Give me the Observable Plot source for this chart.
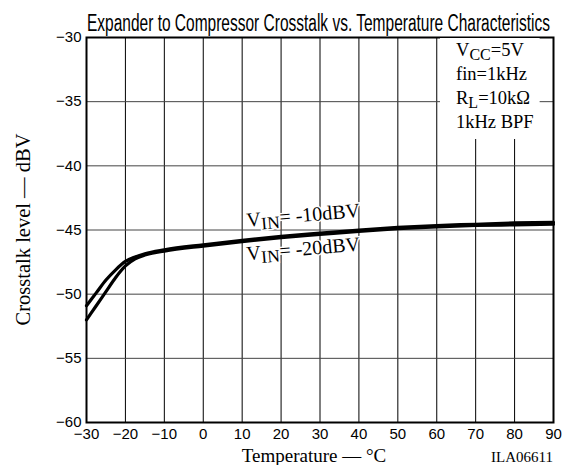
<!DOCTYPE html>
<html><head><meta charset="utf-8">
<script src="https://cdn.jsdelivr.net/npm/d3@7"></script>
<script src="https://cdn.jsdelivr.net/npm/@observablehq/plot@0.6"></script>
<style>body{margin:0;background:#fff} svg{display:block}</style>
</head><body><div id="chart"></div>
<script>
const titleText = "Expander to Compressor Crosstalk vs. Temperature Characteristics";
const temperatures = [-30, -27.5, -25, -22.5, -20, -17.5, -15, -10, 0, 10, 20, 30, 40, 50, 60, 70, 80, 90];
const vin10 = [-50.9, -49.9, -48.9, -48.1, -47.45, -47.1, -46.85, -46.55, -46.15, -45.8, -45.5, -45.25, -45.0, -44.8, -44.65, -44.55, -44.45, -44.4];
const vin20 = [-52.0, -50.9, -49.8, -48.7, -47.8, -47.25, -46.95, -46.65, -46.25, -45.9, -45.6, -45.35, -45.1, -44.9, -44.75, -44.65, -44.6, -44.55];
const seriesNames = ["VIN= -10dBV", "VIN= -20dBV"];
const xTicks = [-30, -20, -10, 0, 10, 20, 30, 40, 50, 60, 70, 80, 90];
const yTicks = [-60, -55, -50, -45, -40, -35, -30];
const xLabel = "Temperature — °C";
const yLabel = "Crosstalk level — dBV";
const codeLabel = "ILA06611";
const conditions = [["V", "CC", "=5V"], ["fin=1kHz", "", ""], ["R", "L", "=10kΩ"], ["1kHz BPF", "", ""]];
// series label anchors (temperature, level)
const labelPos = [[11.4, -44.78], [11.4, -47.4]];

const data = [];
temperatures.forEach((t, i) => {
  data.push({t, v: vin10[i], s: seriesNames[0]});
  data.push({t, v: vin20[i], s: seriesNames[1]});
});

const serif = "'Liberation Serif', 'Times New Roman', serif";
const sans = "'Liberation Sans', Arial, sans-serif";

const chart = Plot.plot({
  width: 563, height: 465,
  marginLeft: 86, marginRight: 10, marginTop: 37, marginBottom: 43,
  style: {fontFamily: sans, fontSize: "15px", color: "#000", background: "#fff"},
  x: {domain: [-30, 90], ticks: xTicks, label: null},
  y: {domain: [-60, -30], ticks: yTicks, label: null},
  marks: [
    Plot.gridX(xTicks, {stroke: "#000", strokeOpacity: 1, strokeWidth: 1}),
    Plot.gridY(yTicks, {stroke: "#444", strokeOpacity: 1, strokeWidth: 1}),
    Plot.axisX({ticks: xTicks, tickSize: 0, tickPadding: 6, fontSize: 15, label: null}),
    Plot.axisY({ticks: yTicks, tickSize: 0, tickPadding: 5, fontSize: 15, label: null}),
    Plot.line(data, {x: "t", y: "v", z: "s", stroke: "#000", strokeWidth: 3.2, curve: "monotone-x"}),
    Plot.frame({stroke: "#000", strokeWidth: 2})
  ]
});
document.getElementById("chart").appendChild(chart);

const svg = d3.select(chart);
const sx = chart.scale("x"), sy = chart.scale("y");
const X = v => sx.apply(v), Y = v => sy.apply(v);

// title
svg.append("text")
  .attr("x", X(-30) + 1).attr("y", 31)
  .attr("text-anchor", "start")
  .attr("font-family", "'Liberation Sans Narrow', 'Liberation Sans', Arial, sans-serif")
  .attr("font-size", 23.5)
  .attr("textLength", 463).attr("lengthAdjust", "spacingAndGlyphs")
  .attr("fill", "#000")
  .text(titleText);

// y label
svg.append("text")
  .attr("transform", `translate(30,${(Y(-30) + Y(-60)) / 2}) rotate(-90)`)
  .attr("text-anchor", "middle")
  .attr("font-family", serif).attr("font-size", 20.5).attr("fill", "#000")
  .text(yLabel);

// x label
svg.append("text")
  .attr("x", 314).attr("y", 462)
  .attr("text-anchor", "middle")
  .attr("font-family", serif).attr("font-size", 19).attr("fill", "#000")
  .text(xLabel);

svg.append("text")
  .attr("x", X(90)).attr("y", 462)
  .attr("text-anchor", "end")
  .attr("font-family", serif).attr("font-size", 15).attr("fill", "#000")
  .text(codeLabel);

// conditions box
const box = svg.append("g");
const boxText = box.append("g");
conditions.forEach((c, i) => {
  const t = boxText.append("text")
    .attr("x", 456).attr("y", 56 + i * 24)
    .attr("text-anchor", "start")
    .attr("font-family", serif).attr("font-size", 18.5).attr("fill", "#000");
  t.append("tspan").text(c[0]);
  if (c[1]) {
    t.append("tspan").attr("dy", 4).attr("font-size", 16).text(c[1]);
    t.append("tspan").attr("dy", -4).text(c[2]);
  }
});
const bb = boxText.node().getBBox();
box.insert("rect", ":first-child")
  .attr("x", bb.x - 16).attr("y", Y(-30) + 1)
  .attr("width", bb.width + 22).attr("height", bb.y + bb.height + 6 - Y(-30))
  .attr("fill", "#fff");

// series labels
seriesNames.forEach((name, i) => {
  const [tx, ty] = labelPos[i];
  const g = svg.append("text")
    .attr("transform", `translate(${X(tx)},${Y(ty)}) rotate(-5)`)
    .attr("text-anchor", "start")
    .attr("font-family", serif).attr("font-size", 20).attr("fill", "#000")
    .style("paint-order", "stroke").attr("stroke", "#fff").attr("stroke-width", 3);
  g.append("tspan").text("V");
  g.append("tspan").attr("dy", 4).attr("font-size", 17.5).text("IN");
  g.append("tspan").attr("dy", -4).text(name.slice(3));
});
</script>
</body></html>
